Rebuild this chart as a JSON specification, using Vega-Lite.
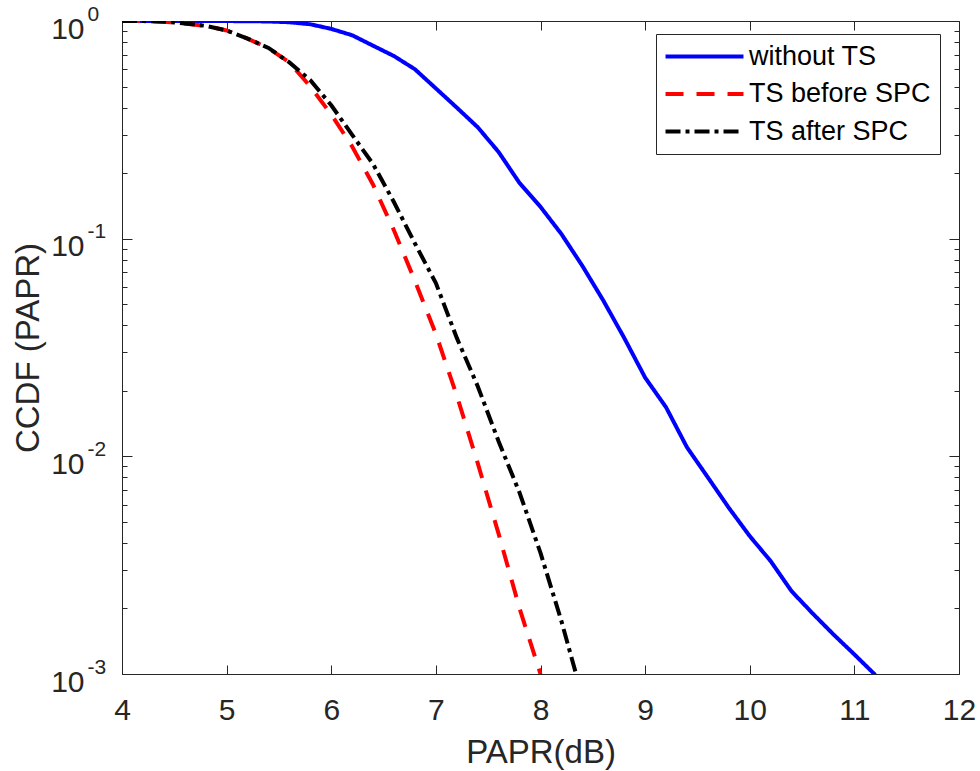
{
  "$schema": "https://vega.github.io/schema/vega-lite/v6.json",
  "width": 837,
  "height": 653,
  "autosize": {"type": "none"},
  "padding": {"left": 122, "top": 21, "right": 21, "bottom": 97},
  "background": "white",
  "config": {"view": {"stroke": null}, "font": "Liberation Sans"},
  "datasets": {
    "curves": [
      {"series": "without TS", "x": 4.0, "y": 1.0},
      {"series": "without TS", "x": 4.2, "y": 1.0},
      {"series": "without TS", "x": 4.4, "y": 1.0},
      {"series": "without TS", "x": 4.6, "y": 1.0},
      {"series": "without TS", "x": 4.8, "y": 1.0},
      {"series": "without TS", "x": 5.0, "y": 0.999},
      {"series": "without TS", "x": 5.2, "y": 0.998},
      {"series": "without TS", "x": 5.4, "y": 0.995},
      {"series": "without TS", "x": 5.6, "y": 0.987},
      {"series": "without TS", "x": 5.8, "y": 0.966},
      {"series": "without TS", "x": 6.0, "y": 0.92},
      {"series": "without TS", "x": 6.2, "y": 0.86},
      {"series": "without TS", "x": 6.4, "y": 0.77},
      {"series": "without TS", "x": 6.6, "y": 0.69},
      {"series": "without TS", "x": 6.8, "y": 0.6},
      {"series": "without TS", "x": 7.0, "y": 0.49},
      {"series": "without TS", "x": 7.2, "y": 0.4},
      {"series": "without TS", "x": 7.4, "y": 0.325},
      {"series": "without TS", "x": 7.6, "y": 0.25},
      {"series": "without TS", "x": 7.8, "y": 0.18},
      {"series": "without TS", "x": 8.0, "y": 0.14},
      {"series": "without TS", "x": 8.2, "y": 0.105},
      {"series": "without TS", "x": 8.4, "y": 0.075},
      {"series": "without TS", "x": 8.6, "y": 0.052},
      {"series": "without TS", "x": 8.8, "y": 0.035},
      {"series": "without TS", "x": 9.0, "y": 0.023},
      {"series": "without TS", "x": 9.2, "y": 0.0168},
      {"series": "without TS", "x": 9.4, "y": 0.011},
      {"series": "without TS", "x": 9.6, "y": 0.008},
      {"series": "without TS", "x": 9.8, "y": 0.0058},
      {"series": "without TS", "x": 10.0, "y": 0.0043},
      {"series": "without TS", "x": 10.2, "y": 0.0033},
      {"series": "without TS", "x": 10.4, "y": 0.0024},
      {"series": "without TS", "x": 10.6, "y": 0.0019},
      {"series": "without TS", "x": 10.8, "y": 0.00152},
      {"series": "without TS", "x": 11.0, "y": 0.00123},
      {"series": "without TS", "x": 11.2, "y": 0.00099},
      {"series": "TS before SPC", "x": 4.0, "y": 1.0},
      {"series": "TS before SPC", "x": 4.2, "y": 0.999},
      {"series": "TS before SPC", "x": 4.4, "y": 0.993},
      {"series": "TS before SPC", "x": 4.6, "y": 0.975},
      {"series": "TS before SPC", "x": 4.8, "y": 0.95},
      {"series": "TS before SPC", "x": 5.0, "y": 0.905},
      {"series": "TS before SPC", "x": 5.2, "y": 0.83},
      {"series": "TS before SPC", "x": 5.4, "y": 0.75},
      {"series": "TS before SPC", "x": 5.6, "y": 0.645},
      {"series": "TS before SPC", "x": 5.8, "y": 0.5},
      {"series": "TS before SPC", "x": 6.0, "y": 0.372},
      {"series": "TS before SPC", "x": 6.2, "y": 0.265},
      {"series": "TS before SPC", "x": 6.4, "y": 0.177},
      {"series": "TS before SPC", "x": 6.6, "y": 0.109},
      {"series": "TS before SPC", "x": 6.8, "y": 0.064},
      {"series": "TS before SPC", "x": 7.0, "y": 0.0365},
      {"series": "TS before SPC", "x": 7.2, "y": 0.019},
      {"series": "TS before SPC", "x": 7.4, "y": 0.0093},
      {"series": "TS before SPC", "x": 7.6, "y": 0.0044},
      {"series": "TS before SPC", "x": 7.8, "y": 0.002},
      {"series": "TS before SPC", "x": 8.0, "y": 0.001},
      {"series": "TS after SPC", "x": 4.0, "y": 1.0},
      {"series": "TS after SPC", "x": 4.2, "y": 0.999},
      {"series": "TS after SPC", "x": 4.4, "y": 0.993},
      {"series": "TS after SPC", "x": 4.6, "y": 0.975},
      {"series": "TS after SPC", "x": 4.8, "y": 0.95},
      {"series": "TS after SPC", "x": 5.0, "y": 0.905},
      {"series": "TS after SPC", "x": 5.2, "y": 0.83},
      {"series": "TS after SPC", "x": 5.4, "y": 0.752},
      {"series": "TS after SPC", "x": 5.6, "y": 0.645},
      {"series": "TS after SPC", "x": 5.8, "y": 0.535},
      {"series": "TS after SPC", "x": 6.0, "y": 0.41},
      {"series": "TS after SPC", "x": 6.2, "y": 0.3},
      {"series": "TS after SPC", "x": 6.4, "y": 0.22},
      {"series": "TS after SPC", "x": 6.6, "y": 0.147},
      {"series": "TS after SPC", "x": 6.8, "y": 0.095},
      {"series": "TS after SPC", "x": 7.0, "y": 0.0625},
      {"series": "TS after SPC", "x": 7.2, "y": 0.035},
      {"series": "TS after SPC", "x": 7.4, "y": 0.021},
      {"series": "TS after SPC", "x": 7.6, "y": 0.0117},
      {"series": "TS after SPC", "x": 7.8, "y": 0.0068},
      {"series": "TS after SPC", "x": 8.0, "y": 0.0036},
      {"series": "TS after SPC", "x": 8.2, "y": 0.00175},
      {"series": "TS after SPC", "x": 8.34, "y": 0.001}
    ]
  },
  "data": {"name": "curves"},
  "layer": [
    {
      "mark": {"type": "line", "strokeWidth": 4, "clip": true, "strokeCap": "butt"},
      "encoding": {
        "x": {
          "field": "x", "type": "quantitative",
          "scale": {"domain": [4, 12], "nice": false, "zero": false},
          "axis": {
            "orient": "bottom", "title": "PAPR(dB)", "values": [4, 5, 6, 7, 8, 9, 10, 11, 12],
            "grid": false, "ticks": false, "tickSize": 0, "domainColor": "#262626",
            "labelFontSize": 30, "labelColor": "#262626", "labelPadding": 21,
            "titleFontSize": 33, "titleFontWeight": "normal", "titleColor": "#262626", "titlePadding": 11,
            "labelFlush": false
          }
        },
        "y": {
          "field": "y", "type": "quantitative",
          "scale": {"type": "log", "domain": [0.001, 1], "nice": false},
          "axis": {
            "orient": "left", "title": "CCDF (PAPR)",
            "values": [0.001, 0.01, 0.1, 1],
            "labelExpr": "'10'",
            "grid": false, "ticks": false, "tickSize": 0, "domainColor": "#262626",
            "labelFontSize": 30, "labelColor": "#262626", "labelPadding": 38, "labelOffset": 8,
            "labelOverlap": false, "labelFlush": false,
            "titleFontSize": 33, "titleFontWeight": "normal", "titleColor": "#262626", "titlePadding": 5
          }
        },
        "color": {
          "field": "series", "type": "nominal",
          "scale": {"domain": ["without TS", "TS before SPC", "TS after SPC"], "range": ["#0000ff", "#ff0000", "#000000"]},
          "legend": {
            "title": null, "orient": "none", "legendX": 534, "legendY": 13,
            "symbolType": "M-4,0H4", "symbolSize": 380, "symbolStrokeWidth": 4,
            "symbolOffset": 26, "labelOffset": 31,
            "labelFontSize": 27, "labelColor": "#000000", "labelLimit": 400,
            "strokeColor": "#262626", "fillColor": "white", "padding": 9, "rowPadding": 9.5
          }
        },
        "strokeDash": {
          "field": "series", "type": "nominal",
          "scale": {"domain": ["without TS", "TS before SPC", "TS after SPC"], "range": [[1, 0], [18, 13], [15, 5, 4, 5]]},
          "legend": {
            "title": null, "orient": "none", "legendX": 534, "legendY": 13,
            "symbolType": "M-4,0H4", "symbolSize": 380, "symbolStrokeWidth": 4,
            "symbolOffset": 26, "labelOffset": 31,
            "labelFontSize": 27, "labelColor": "#000000", "labelLimit": 400,
            "strokeColor": "#262626", "fillColor": "white", "padding": 9, "rowPadding": 9.5
          }
        }
      }
    },
    {
      "mark": {"type": "line", "strokeOpacity": 0, "clip": true},
      "encoding": {
        "x": {
          "field": "x", "type": "quantitative",
          "axis": {
            "orient": "top", "offset": -653, "title": " ", "labels": false, "domain": false, "gridOpacity": 0,
            "values": [4, 5, 6, 7, 8, 9, 10, 11, 12],
            "tickSize": 9, "tickColor": "#262626", "tickWidth": 1
          }
        },
        "y": {
          "field": "y", "type": "quantitative",
          "axis": {
            "orient": "right", "offset": -837, "title": " ", "labels": false, "domain": false, "gridOpacity": 0,
            "values": [0.001, 0.002, 0.003, 0.004, 0.005, 0.006, 0.007, 0.008, 0.009, 0.01, 0.02, 0.03, 0.04, 0.05, 0.06, 0.07, 0.08, 0.09, 0.1, 0.2, 0.3, 0.4, 0.5, 0.6, 0.7, 0.8, 0.9, 1],
            "tickSize": {"condition": {"test": "abs(log(datum.value)/LN10 - round(log(datum.value)/LN10)) < 0.001", "value": 10}, "value": 5},
            "tickColor": "#262626", "tickWidth": 1
          }
        }
      }
    },
    {
      "mark": {"type": "line", "strokeOpacity": 0, "clip": true},
      "encoding": {
        "x": {
          "field": "x", "type": "quantitative",
          "axis": {
            "orient": "bottom", "offset": -653, "title": " ", "labels": false, "domainColor": "#262626", "gridOpacity": 0,
            "values": [4, 5, 6, 7, 8, 9, 10, 11, 12],
            "tickSize": 9, "tickColor": "#262626", "tickWidth": 1
          }
        },
        "y": {
          "field": "y", "type": "quantitative",
          "axis": {
            "orient": "left", "offset": -837, "title": " ", "labels": false, "domainColor": "#262626", "gridOpacity": 0,
            "values": [0.001, 0.002, 0.003, 0.004, 0.005, 0.006, 0.007, 0.008, 0.009, 0.01, 0.02, 0.03, 0.04, 0.05, 0.06, 0.07, 0.08, 0.09, 0.1, 0.2, 0.3, 0.4, 0.5, 0.6, 0.7, 0.8, 0.9, 1],
            "tickSize": {"condition": {"test": "abs(log(datum.value)/LN10 - round(log(datum.value)/LN10)) < 0.001", "value": 10}, "value": 5},
            "tickColor": "#262626", "tickWidth": 1
          }
        }
      }
    },
    {
      "mark": {"type": "line", "strokeOpacity": 0, "clip": true},
      "encoding": {
        "x": {"field": "x", "type": "quantitative", "axis": null},
        "y": {
          "field": "y", "type": "quantitative",
          "axis": {
            "orient": "left", "title": null, "domain": false, "ticks": false, "tickSize": 0, "grid": false,
            "values": [0.001, 0.01, 0.1, 1],
            "labelExpr": "datum.value == 1 ? '0' : datum.value == 0.1 ? '-1' : datum.value == 0.01 ? '-2' : '-3'",
            "labelFontSize": 21, "labelColor": "#262626", "labelAlign": "left", "labelPadding": 35, "labelOffset": -7,
            "labelOverlap": false, "labelFlush": false
          }
        }
      }
    }
  ],
  "resolve": {"axis": {"x": "independent", "y": "independent"}}
}
